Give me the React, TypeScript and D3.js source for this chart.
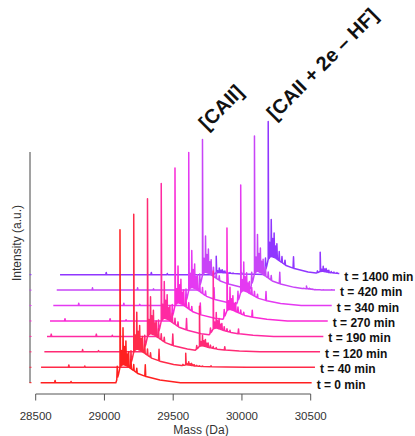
import React from "react";
import * as d3 from "d3";

// ---- data ----
const timeLabels = ["t = 0 min", "t = 40 min", "t = 120 min", "t = 190 min", "t = 270 min", "t = 340 min", "t = 420 min", "t = 1400 min"];
const traceColors = ["#ff2020", "#ff2a48", "#ff2a74", "#ff2aa2", "#fa2ad6", "#e43af2", "#c845f7", "#9036ff"];
const traceStartDa = [28536, 28539, 28563, 28582, 28604, 28628, 28653, 28677];
const traceEndDa = [30507, 30531, 30568, 30592, 30624, 30653, 30677, 30708];
const waterfallShiftDa = 100;
const caiiMass = 29113;
const speciesSpacingDa = 378;
const caiiAmp = [1, 1, 1, 1, 1, 1, 0.985, 0.12];
const adductAmp = [0, 0.085, 0.29, 0.42, 0.6, 0.78, 1, 1];
const thirdAmp = [0, 0, 0, 0, 0, 0, 0.02, 0.14];
const clusterOffsets = [-20, 0, 11, 22, 32, 43, 53, 63, 80, 100, 122, 184];
const clusterHeights = [0.08, 0.9, 0.1, 0.24, 0.12, 0.16, 0.08, 0.1, 0.06, 0.04, 0.03, 0.075];
const envOffsets = [-30, -12, 0, 20, 50, 90, 130, 190, 290, 440];
const envLevels = [0, 0.05, 0.1, 0.12, 0.11, 0.085, 0.06, 0.04, 0.018, 0];
const bumpMasses = [28313, 28641, 28757];
const bumpHeights = [0.015, 0.015, 0.008];
const xTicks = [28500, 29000, 29500, 30000, 30500];
const peakLabels = ["[CAII]", "[CAII + 2e \u2013 HF]"];

const W = 415;
const H = 436;
const FONT = "'Liberation Sans', Arial, Helvetica, sans-serif";

export default function App() {
  const x = d3.scaleLinear().domain([28500, 30500]).range([35.7, 310.7]);
  const amp = d3.scaleLinear().domain([0, 1]).range([0, 153]);
  const baseY = (i: number) => 382.7 - i * 15.43;
  const envShape = d3.scaleLinear().domain(envOffsets).range(envLevels).clamp(true);

  const traces = timeLabels.map((label, i) => {
    const shift = i * waterfallShiftDa;
    const species = [
      { c: caiiMass + shift, a: caiiAmp[i] },
      { c: caiiMass + speciesSpacingDa + shift, a: adductAmp[i] },
      { c: caiiMass + 2 * speciesSpacingDa + shift, a: thirdAmp[i] },
    ];
    const env = (m: number) => species.reduce((s, sp) => s + sp.a * envShape(m - sp.c), 0);
    const spikes: { m: number; h: number }[] = [];
    species.forEach((sp) => {
      if (sp.a <= 0) return;
      clusterOffsets.forEach((o, k) => spikes.push({ m: sp.c + o, h: sp.a * clusterHeights[k] }));
    });
    bumpMasses.forEach((bm, k) => spikes.push({ m: bm + shift, h: bumpHeights[k] }));
    const w = 3.5;
    const verts: { m: number; v: number }[] = [];
    const s0 = traceStartDa[i];
    const s1 = traceEndDa[i];
    verts.push({ m: s0, v: env(s0) });
    verts.push({ m: s1, v: env(s1) });
    species.forEach((sp) => {
      if (sp.a <= 0) return;
      envOffsets.forEach((o) => verts.push({ m: sp.c + o, v: env(sp.c + o) }));
    });
    spikes.forEach((p) => {
      verts.push({ m: p.m - w, v: env(p.m - w) });
      verts.push({ m: p.m, v: env(p.m) + p.h });
      verts.push({ m: p.m + w, v: env(p.m + w) });
    });
    const pts = verts.filter((p) => p.m >= s0 && p.m <= s1).sort((a, b) => a.m - b.m);
    const line = d3
      .line<{ m: number; v: number }>()
      .x((p) => x(p.m))
      .y((p) => baseY(i) - amp(p.v));
    return { label, i, d: line(pts) || "", color: traceColors[i], endX: x(s1) };
  });

  return (
    <svg width={W} height={H} style={{ position: "fixed", left: 0, top: 0, background: "#fff" }} fontFamily={FONT}>
      {/* y axis */}
      <line x1={30} x2={30} y1={152} y2={383} stroke="#444" strokeWidth={1} />
      {traces.map((t) => (
        <line key={"yt" + t.i} x1={29.5} x2={31.5} y1={baseY(t.i)} y2={baseY(t.i)} stroke={t.color} strokeWidth={1} />
      ))}
      <text transform={`translate(21,243) rotate(-90)`} textAnchor="middle" fontSize={12} fill="#333">
        Intensity (a.u.)
      </text>
      {/* traces, back to front */}
      {traces
        .slice()
        .reverse()
        .map((t) => (
          <path key={t.label} d={t.d} fill="none" stroke={t.color} strokeWidth={1.5} strokeLinejoin="round" />
        ))}
      {traces.map((t) => (
        <text key={"l" + t.i} x={t.endX + 5} y={baseY(t.i) + 6} fontSize={12} fontWeight="bold" fill="#111">
          {t.label}
        </text>
      ))}
      {/* x axis */}
      <line x1={x(28500)} x2={x(30500)} y1={394} y2={394} stroke="#555" strokeWidth={1} />
      {xTicks.map((v) => (
        <g key={v}>
          <line x1={x(v)} x2={x(v)} y1={394} y2={400.5} stroke="#555" strokeWidth={1} />
          <text x={x(v)} y={420} textAnchor="middle" fontSize={11.5} fill="#333">
            {v}
          </text>
        </g>
      ))}
      <text x={201} y={434} textAnchor="middle" fontSize={12} fill="#333">
        Mass (Da)
      </text>
      {/* peak labels */}
      <text transform={`translate(207,131) rotate(-45)`} fontSize={20} fontWeight="bold" fill="#111">
        {peakLabels[0]}
      </text>
      <text transform={`translate(275,121) rotate(-45)`} fontSize={20} fontWeight="bold" fill="#111">
        {peakLabels[1]}
      </text>
    </svg>
  );
}
